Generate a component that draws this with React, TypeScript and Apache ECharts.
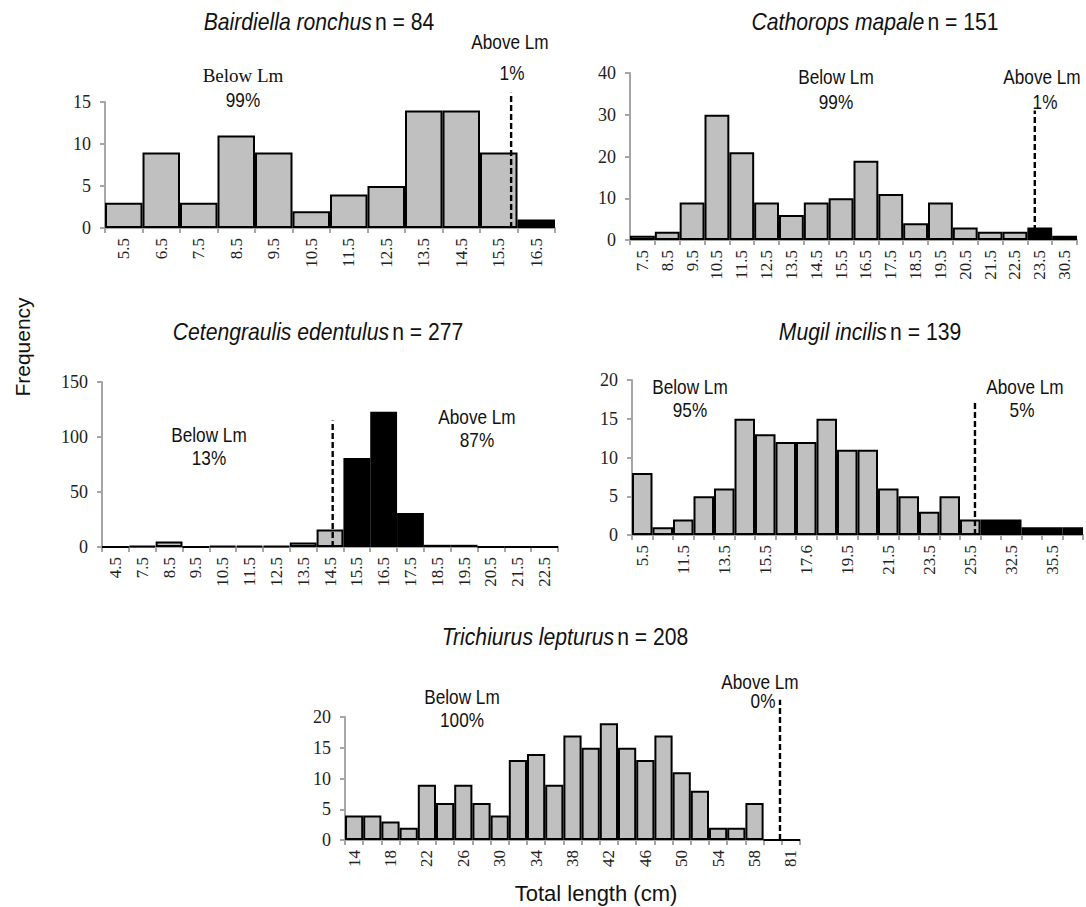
import React, { useEffect, useRef } from "react";
import * as echarts from "echarts";

// ---------- Data ----------
const bairdCats = ["5.5", "6.5", "7.5", "8.5", "9.5", "10.5", "11.5", "12.5", "13.5", "14.5", "15.5", "16.5"];
const bairdVals = [3, 9, 3, 11, 9, 2, 4, 5, 14, 14, 9, 1];
const bairdFirstAbove = 11;
const bairdLm = 10.83;

const cathCats = ["7.5", "8.5", "9.5", "10.5", "11.5", "12.5", "13.5", "14.5", "15.5", "16.5", "17.5", "18.5", "19.5", "20.5", "21.5", "22.5", "23.5", "30.5"];
const cathVals = [1, 2, 9, 30, 21, 9, 6, 9, 10, 19, 11, 4, 9, 3, 2, 2, 3, 1];
const cathFirstAbove = 16;
const cathLm = 16.3;

const cetCats = ["4.5", "7.5", "8.5", "9.5", "10.5", "11.5", "12.5", "13.5", "14.5", "15.5", "16.5", "17.5", "18.5", "19.5", "20.5", "21.5", "22.5"];
const cetVals = [0, 1, 5, 0, 1, 1, 1, 4, 16, 81, 123, 31, 2, 2, 0, 0, 0];
const cetFirstAbove = 9;
const cetLm = 8.6;

const mugCats = ["5.5", "10.5", "11.5", "12.5", "13.5", "14.5", "15.5", "16.5", "17.6", "18.5", "19.5", "20.5", "21.5", "22.5", "23.5", "24.5", "25.5", "26.5", "32.5", "33.5", "35.5", "36.5"];
const mugVals = [8, 1, 2, 5, 6, 15, 13, 12, 12, 15, 11, 11, 6, 5, 3, 5, 2, 2, 2, 1, 1, 1];
const mugFirstAbove = 17;
const mugLm = 16.73;

const triCats = ["14", "16", "18", "20", "22", "24", "26", "28", "30", "32", "34", "36", "38", "40", "42", "44", "46", "48", "50", "52", "54", "56", "58", "60", "81"];
const triVals = [4, 4, 3, 2, 9, 6, 9, 6, 4, 13, 14, 9, 17, 15, 19, 15, 13, 17, 11, 8, 2, 2, 6, 0, 0];
const triFirstAbove = 24;
const triLm = 23.9;

const SERIF = '"Liberation Serif", "Times New Roman", serif';
const NARROW = '"Liberation Sans Narrow", "Arial Narrow", "Liberation Sans", Arial, sans-serif';
const SANS = '"Liberation Sans", Arial, sans-serif';
const AXIS_GREY = "#a6a6a6";

type Panel = {
  cats: string[];
  vals: number[];
  firstAbove: number;
  lm: number;
  lmTop: number;
  yMax: number;
  yInt: number;
  labelInterval: number;
  grid: { left: number; top: number; width: number; height: number };
};

const panels: Panel[] = [
  { cats: bairdCats, vals: bairdVals, firstAbove: bairdFirstAbove, lm: bairdLm, lmTop: 16.1, yMax: 15, yInt: 5, labelInterval: 0, grid: { left: 105, top: 102, width: 450, height: 126 } },
  { cats: cathCats, vals: cathVals, firstAbove: cathFirstAbove, lm: cathLm, lmTop: 31, yMax: 40, yInt: 10, labelInterval: 0, grid: { left: 630, top: 73, width: 447, height: 167 } },
  { cats: cetCats, vals: cetVals, firstAbove: cetFirstAbove, lm: cetLm, lmTop: 115, yMax: 150, yInt: 50, labelInterval: 0, grid: { left: 102, top: 382, width: 456, height: 165 } },
  { cats: mugCats, vals: mugVals, firstAbove: mugFirstAbove, lm: mugLm, lmTop: 17.2, yMax: 20, yInt: 5, labelInterval: 1, grid: { left: 632, top: 380, width: 451, height: 155 } },
  { cats: triCats, vals: triVals, firstAbove: triFirstAbove, lm: triLm, lmTop: 22.8, yMax: 20, yInt: 5, labelInterval: 1, grid: { left: 345, top: 717, width: 455, height: 123 } },
];

const titles = [
  { sp: "Bairdiella ronchus", n: "n = 84", x: 319, y: 22 },
  { sp: "Cathorops mapale", n: "n = 151", x: 875, y: 22 },
  { sp: "Cetengraulis edentulus", n: "n = 277", x: 318, y: 332 },
  { sp: "Mugil incilis", n: "n = 139", x: 870, y: 332 },
  { sp: "Trichiurus lepturus", n: "n = 208", x: 565, y: 637 },
];

const notes = [
  { t: "Below Lm", x: 243, y: 75, serif: true },
  { t: "99%", x: 243, y: 100 },
  { t: "Above Lm", x: 510, y: 42 },
  { t: "1%", x: 512, y: 73 },
  { t: "Below Lm", x: 836, y: 77 },
  { t: "99%", x: 836, y: 102 },
  { t: "Above Lm", x: 1042, y: 77 },
  { t: "1%", x: 1045, y: 102 },
  { t: "Below Lm", x: 209, y: 435 },
  { t: "13%", x: 209, y: 458 },
  { t: "Above Lm", x: 477, y: 417 },
  { t: "87%", x: 477, y: 440 },
  { t: "Below Lm", x: 690, y: 387 },
  { t: "95%", x: 690, y: 410 },
  { t: "Above Lm", x: 1025, y: 387 },
  { t: "5%", x: 1022, y: 410 },
  { t: "Below Lm", x: 462, y: 697 },
  { t: "100%", x: 462, y: 720 },
  { t: "Above Lm", x: 760, y: 682 },
  { t: "0%", x: 763, y: 701 },
];

export default function App() {
  const ref = useRef<HTMLDivElement>(null);

  useEffect(() => {
    document.body.style.margin = "0";
    if (!ref.current) return;
    const chart = echarts.init(ref.current, undefined, { renderer: "svg" });

    const grid: any[] = [];
    const xAxis: any[] = [];
    const yAxis: any[] = [];
    const series: any[] = [];

    panels.forEach((p, i) => {
      grid.push({ ...p.grid, containLabel: false });
      xAxis.push({
        type: "category",
        gridIndex: i,
        data: p.cats,
        axisLine: { show: true, lineStyle: { color: AXIS_GREY, width: 2 } },
        axisTick: { show: true, interval: 0, length: 5, lineStyle: { color: AXIS_GREY, width: 2 } },
        axisLabel: { rotate: 90, interval: p.labelInterval, fontFamily: SERIF, fontSize: 17, color: "#222", margin: 10 },
        splitLine: { show: false },
      });
      xAxis.push({ type: "value", gridIndex: i, min: 0, max: p.cats.length, show: false });
      yAxis.push({
        type: "value",
        gridIndex: i,
        min: 0,
        max: p.yMax,
        interval: p.yInt,
        axisLine: { show: true, lineStyle: { color: AXIS_GREY, width: 2 } },
        axisTick: { show: true, length: 5, lineStyle: { color: AXIS_GREY, width: 2 } },
        axisLabel: { fontFamily: SERIF, fontSize: 18, color: "#222", margin: 14 },
        splitLine: { show: false },
      });
      series.push({
        type: "bar",
        xAxisIndex: i * 2,
        yAxisIndex: i,
        barCategoryGap: "0%",
        data: p.vals.map((v, k) => ({
          value: v,
          itemStyle: { color: k >= p.firstAbove ? "#000" : "#c0c0c0" },
        })),
        itemStyle: { borderColor: "#000", borderWidth: 2 },
      });
      series.push({
        type: "line",
        xAxisIndex: i * 2 + 1,
        yAxisIndex: i,
        clip: false,
        symbol: "none",
        z: 5,
        data: [
          [p.lm, 0],
          [p.lm, p.lmTop],
        ],
        lineStyle: { color: "#000", width: 2.4, type: [6, 3] },
      });
    });

    const graphic: any[] = [];
    titles.forEach((t) => {
      graphic.push({
        type: "text",
        x: t.x,
        y: t.y,
        scaleX: 0.92,
        style: {
          text: `{i|${t.sp}} {n|${t.n}}`,
          align: "center",
          verticalAlign: "middle",
          rich: {
            i: { fontFamily: NARROW, fontSize: 23, fontStyle: "italic", fill: "#111" },
            n: { fontFamily: NARROW, fontSize: 23, fill: "#111" },
          },
        },
      });
    });
    notes.forEach((n) => {
      graphic.push({
        type: "text",
        x: n.x,
        y: n.y,
        scaleX: n.serif ? 1 : 0.86,
        style: {
          text: n.t,
          align: "center",
          verticalAlign: "middle",
          fontFamily: n.serif ? SERIF : NARROW,
          fontSize: n.serif ? 19 : 20,
          fill: "#111",
        },
      });
    });
    graphic.push({
      type: "text",
      x: 22,
      y: 347,
      rotation: Math.PI / 2,
      style: { text: "Frequency", align: "center", verticalAlign: "middle", fontFamily: SANS, fontSize: 21, fill: "#111" },
    });
    graphic.push({
      type: "text",
      x: 596,
      y: 893,
      style: { text: "Total length (cm)", align: "center", verticalAlign: "middle", fontFamily: SANS, fontSize: 22, fill: "#111" },
    });

    chart.setOption({
      animation: false,
      backgroundColor: "#fff",
      grid,
      xAxis,
      yAxis,
      series,
      graphic,
    });

    return () => chart.dispose();
  }, []);

  return <div ref={ref} style={{ width: 1086, height: 907 }} />;
}
